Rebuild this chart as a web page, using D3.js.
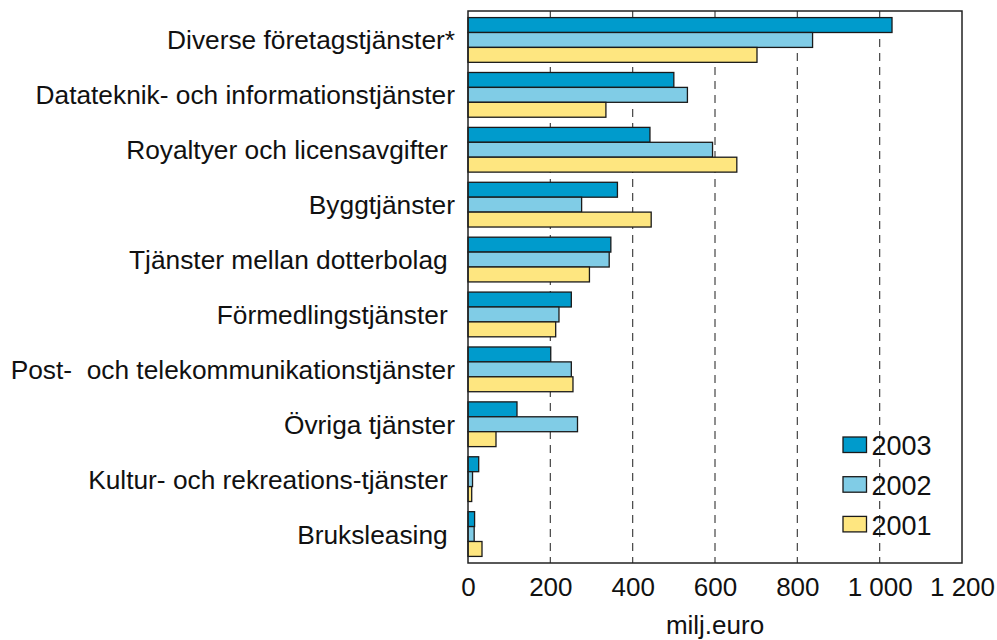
<!DOCTYPE html>
<html>
<head>
<meta charset="utf-8">
<script src="https://cdn.jsdelivr.net/npm/d3@7"></script>
<style>
  body { margin: 0; background: #fff; }
  svg { font-family: "Liberation Sans", Arial, sans-serif; }
</style>
</head>
<body>
<div id="chart"></div>
<script>
// Data (milj. euro)
const categories = [
    "Diverse företagstjänster*",
    "Datateknik- och informationstjänster",
    "Royaltyer och licensavgifter ",
    "Byggtjänster",
    "Tjänster mellan dotterbolag ",
    "Förmedlingstjänster ",
    "Post-  och telekommunikationstjänster",
    "Övriga tjänster",
    "Kultur- och rekreations-tjänster ",
    "Bruksleasing "
];
const years = ["2003", "2002", "2001"];
const values2003 = [1030, 500, 442, 363, 347, 251, 201, 119, 26, 16];
const values2002 = [837, 533, 594, 276, 343, 221, 251, 266, 11, 15];
const values2001 = [702, 335, 653, 445, 295, 213, 255, 68, 9, 34];
const tickValues = [0, 200, 400, 600, 800, 1000, 1200];
const tickLabels = ["0", "200", "400", "600", "800", "1 000", "1 200"];
const colors = ["#009bcc", "#80cce6", "#fee680"];

const width = 997, height = 640;
const margin = { top: 11, right: 35, bottom: 77, left: 468 };

const svg = d3.select("#chart")
    .append("svg")
    .attr("width", width)
    .attr("height", height);

const plotWidth = width - margin.left - margin.right;
const plotHeight = height - margin.top - margin.bottom;

const g = svg.append("g")
    .attr("transform", `translate(${margin.left},${margin.top})`);

const rows = categories.map((c, i) => ({
    category: c,
    values: [values2003[i], values2002[i], values2001[i]]
}));

// Scales
const xScale = d3.scaleLinear().domain([0, 1200]).range([0, plotWidth]);
const yScale = d3.scaleBand().domain(categories).range([0, plotHeight])
    .paddingInner(0.185).paddingOuter(0.12);
const ySub = d3.scaleBand().domain(years).range([0, yScale.bandwidth()]);

// Dashed gridlines (behind bars)
g.append("g")
    .selectAll("line")
    .data(tickValues.slice(1, -1))
    .join("line")
    .attr("x1", d => xScale(d))
    .attr("x2", d => xScale(d))
    .attr("y1", 0)
    .attr("y2", plotHeight)
    .attr("stroke", "#444")
    .attr("stroke-width", 1.2)
    .attr("stroke-dasharray", "8,6");

// Bars
const groups = g.selectAll(".grp")
    .data(rows)
    .join("g")
    .attr("class", "grp")
    .attr("transform", d => `translate(0,${yScale(d.category)})`);

groups.selectAll("rect")
    .data(d => d.values.map((v, i) => ({ year: years[i], value: v, i })))
    .join("rect")
    .attr("x", xScale(0))
    .attr("y", d => ySub(d.year))
    .attr("width", d => xScale(d.value) - xScale(0))
    .attr("height", ySub.bandwidth())
    .attr("fill", d => colors[d.i])
    .attr("stroke", "#1a1a1a")
    .attr("stroke-width", 1.3);

// Frame
g.append("rect")
    .attr("width", plotWidth)
    .attr("height", plotHeight)
    .attr("fill", "none")
    .attr("stroke", "#222")
    .attr("stroke-width", 1.5);

// Axes
const xAxis = g.append("g")
    .attr("transform", `translate(0,${plotHeight})`)
    .call(d3.axisBottom(xScale)
        .tickValues(tickValues)
        .tickFormat((d, i) => tickLabels[i])
        .tickSize(0)
        .tickPadding(15));
xAxis.select(".domain").remove();
xAxis.selectAll("text")
    .attr("font-size", 26)
    .attr("font-family", "Liberation Sans, Arial, sans-serif")
    .attr("fill", "#111");

const yAxis = g.append("g")
    .call(d3.axisLeft(yScale).tickSize(0).tickPadding(13));
yAxis.select(".domain").remove();
yAxis.selectAll("text")
    .attr("font-size", 26.3)
    .attr("font-family", "Liberation Sans, Arial, sans-serif")
    .attr("fill", "#111")
    .attr("dy", "0.36em")
    .style("white-space", "pre");

// Axis title
svg.append("text")
    .attr("x", margin.left + plotWidth / 2)
    .attr("y", 634)
    .attr("text-anchor", "middle")
    .attr("font-size", 26)
    .attr("fill", "#111")
    .text("milj.euro");

// Legend
const legend = svg.append("g")
    .attr("transform", "translate(843,437)");

const items = legend.selectAll("g")
    .data(years)
    .join("g")
    .attr("transform", (d, i) => `translate(0,${i * 39.7})`);

items.append("rect")
    .attr("width", 23.5)
    .attr("height", 15.5)
    .attr("fill", (d, i) => colors[i])
    .attr("stroke", "#1a1a1a")
    .attr("stroke-width", 1.3);

items.append("text")
    .attr("x", 28.5)
    .attr("y", 18.3)
    .attr("font-size", 27)
    .attr("fill", "#111")
    .text(d => d);
</script>
</body>
</html>
